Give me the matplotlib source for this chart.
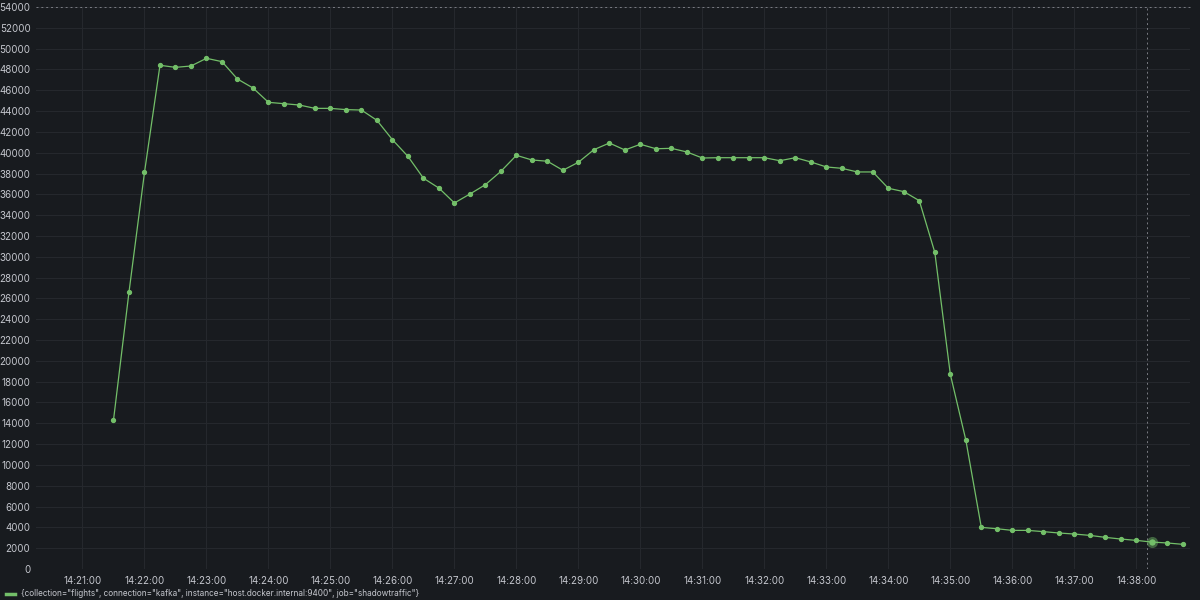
import numpy as np
import pandas as pd
import matplotlib
matplotlib.use("Agg")
import matplotlib.pyplot as plt
import matplotlib.dates as mdates

plt.rcParams['font.family'] = ['Inter', 'DejaVu Sans']

# 数据: 每15秒一个采样点, 从 14:21:30 开始
start_time = "2024-01-01 14:21:30"
step = "15s"
values = [14300, 26600, 38100, 48400, 48200, 48330, 49070, 48750, 47080, 46220,
          44840, 44710, 44580, 44260, 44260, 44140, 44100, 43110, 41250, 39650,
          37550, 36600, 35170, 36030, 36930, 38210, 39750, 39300, 39180, 38310,
          39080, 40290, 40930, 40260, 40810, 40380, 40420, 40070, 39490, 39520,
          39520, 39520, 39520, 39230, 39520, 39110, 38630, 38500, 38150, 38150,
          36580, 36260, 35390, 30420, 18710, 12400, 4000, 3870, 3710, 3710,
          3590, 3460, 3360, 3230, 3040, 2880, 2750, 2590, 2500, 2370]
times = pd.date_range(start_time, periods=len(values), freq=step)
hover_idx = 67
legend_label = '{collection="flights", connection="kafka", instance="host.docker.internal:9400", job="shadowtraffic"}'

x_min = pd.Timestamp("2024-01-01 14:20:15")
x_max = pd.Timestamp("2024-01-01 14:38:52")
y_max = 54000

bg = '#181b1f'
green = '#73bf69'
txt = '#c4c6cd'
grid_c = '#25282d'

fig = plt.figure(figsize=(12, 6), dpi=100, facecolor=bg)
ax = fig.add_axes([36/1200, 1-569/600, (1190-36)/1200, (569-7)/600])
ax.set_facecolor(bg)

ax.plot(times, values, color=green, lw=0.9, marker='o', ms=2.8, mfc=green, mec=green, zorder=3)
# 悬停高亮点
ax.plot(times[hover_idx], values[hover_idx], 'o', ms=8, color=green, alpha=0.45, mec='none', zorder=4)
ax.plot(times[hover_idx], values[hover_idx], 'o', ms=4.5, color=green, mec='none', zorder=5)

# 十字准线
ax.axvline(pd.Timestamp("2024-01-01 14:38:10"), color='#7a7c83', lw=0.7, ls=(0, (2, 3)), zorder=2)
ax.axhline(y_max, color='#7a7c83', lw=0.7, ls=(0, (2, 3)), zorder=2, clip_on=False)

ax.set_xlim(x_min, x_max)
ax.set_ylim(0, y_max)
ax.set_yticks(np.arange(0, y_max + 1, 2000))
ax.xaxis.set_major_locator(mdates.MinuteLocator())
ax.xaxis.set_major_formatter(mdates.DateFormatter('%H:%M:%S'))

ax.grid(True, color=grid_c, lw=0.8)
ax.set_axisbelow(True)
for s in ax.spines.values():
    s.set_visible(False)
ax.tick_params(axis='both', length=0, colors=txt, labelsize=7)
ax.tick_params(axis='y', pad=4)
ax.tick_params(axis='x', pad=5)

# 图例
fig.lines.append(plt.Line2D([6/1200, 15/1200], [1-594/600, 1-594/600], color=green, lw=2.5, transform=fig.transFigure))
fig.text(21/1200, 1-594/600, legend_label, color=txt, fontsize=5.9, va='center', ha='left')

fig.savefig('out.png', dpi=100, facecolor=bg)
